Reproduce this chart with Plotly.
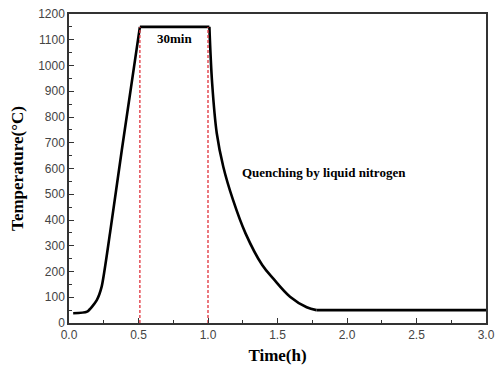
import plotly.graph_objects as go

# Heating / holding / quenching profile (time in h, temperature in °C)
ramp_t = [0.03, 0.13, 0.20, 0.235, 0.295, 0.38, 0.51]
ramp_T = [38, 44, 89, 141, 349, 672, 1150]
hold_t = [0.51, 1.01]
hold_T = [1150, 1150]
quench_t = [1.01, 1.03, 1.063, 1.11, 1.18, 1.27, 1.39, 1.47, 1.59, 1.71, 1.78]
quench_T = [1150, 930, 737, 607, 478, 348, 225, 172, 102, 61, 50]
tail_t = [1.78, 3.0]
tail_T = [50, 50]

marker_t = [0.51, 1.0]
marker_T = [0, 1150]

x_ticks = [0.0, 0.5, 1.0, 1.5, 2.0, 2.5, 3.0]
x_labels = ["0.0", "0.5", "1.0", "1.5", "2.0", "2.5", "3.0"]
y_ticks = list(range(0, 1300, 100))

line_style = dict(color="black", width=2.6)
fig = go.Figure()
fig.add_trace(go.Scatter(x=ramp_t, y=ramp_T, mode="lines",
                         line=dict(**line_style, shape="spline", smoothing=0.6)))
fig.add_trace(go.Scatter(x=hold_t, y=hold_T, mode="lines", line=line_style))
fig.add_trace(go.Scatter(x=quench_t, y=quench_T, mode="lines",
                         line=dict(**line_style, shape="spline", smoothing=1.0)))
fig.add_trace(go.Scatter(x=tail_t, y=tail_T, mode="lines", line=line_style))
for t in marker_t:
    fig.add_trace(go.Scatter(x=[t, t], y=marker_T, mode="lines",
                             line=dict(color="#e0303a", width=1.3, dash="3px,2px")))

serif = "Liberation Serif, Times New Roman, serif"
fig.add_annotation(x=0.62, y=1103, text="<b>30min</b>", showarrow=False,
                   xanchor="left", yanchor="middle",
                   font=dict(family=serif, size=13, color="black"))
fig.add_annotation(x=1.23, y=583, text="<b>Quenching by liquid nitrogen</b>",
                   showarrow=False, xanchor="left", yanchor="middle",
                   font=dict(family=serif, size=13, color="black"))

axis_common = dict(showline=True, linecolor="#333", linewidth=1.5, mirror=True,
                   ticks="inside", tickcolor="#333", ticklen=5, tickwidth=1.2,
                   showgrid=False, zeroline=False, automargin=False,
                   tickfont=dict(family="Liberation Sans, Arial, sans-serif",
                                 size=12, color="#444"))
fig.update_xaxes(range=[0, 3.0], tickvals=x_ticks, ticktext=x_labels,
                 minor=dict(ticks="inside", ticklen=3, tickcolor="#333", dtick=0.25),
                 title=dict(text="<b>Time(h)</b>", standoff=8,
                            font=dict(family=serif, size=17, color="black")),
                 **axis_common)
fig.update_yaxes(range=[0, 1200], tickvals=y_ticks,
                 minor=dict(ticks="inside", ticklen=3, tickcolor="#333", dtick=50),
                 title=dict(text="<b>Temperature(°C)</b>", standoff=10,
                            font=dict(family=serif, size=17, color="black")),
                 **axis_common)
fig.update_layout(width=495, height=369, showlegend=False,
                  margin=dict(l=69, r=9, t=14, b=46),
                  plot_bgcolor="white", paper_bgcolor="white")
fig.write_html("out.html")
